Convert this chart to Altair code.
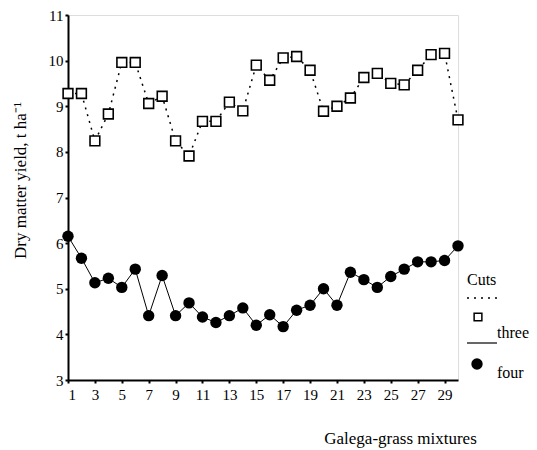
import altair as alt
import pandas as pd

mixture = list(range(1, 31))
three = [9.28, 9.28, 8.24, 8.83, 9.96, 9.96, 9.06, 9.22, 8.24, 7.91,
         8.67, 8.67, 9.09, 8.90, 9.90, 9.57, 10.06, 10.09, 9.79, 8.89,
         9.00, 9.18, 9.63, 9.72, 9.50, 9.47, 9.79, 10.13, 10.16, 8.70]
four = [6.15, 5.67, 5.13, 5.23, 5.03, 5.43, 4.41, 5.29, 4.41, 4.69,
        4.38, 4.26, 4.41, 4.58, 4.20, 4.43, 4.17, 4.53, 4.64, 5.00,
        4.64, 5.36, 5.20, 5.03, 5.27, 5.43, 5.59, 5.59, 5.62, 5.94]
x_ticks = list(range(1, 30, 2))
y_ticks = list(range(3, 12))

df = pd.DataFrame({"mixture": mixture, "three": three, "four": four})
FONT = "Liberation Serif"

xenc = alt.X("mixture:Q",
             scale=alt.Scale(domain=[1, 30], nice=False, zero=False),
             axis=alt.Axis(values=x_ticks, title="Galega-grass mixtures",
                           grid=False, domainColor="black", domainWidth=2,
                           tickColor="black", tickSize=3, tickWidth=2,
                           labelFont=FONT, labelFontSize=15, labelColor="black",
                           labelPadding=4,
                           titleFont=FONT, titleFontSize=17, titleFontWeight="normal",
                           titleColor="black", titleX=332, titleY=58,
                           titleAlign="center", titleBaseline="middle"))

def yenc(field):
    return alt.Y(f"{field}:Q",
                 scale=alt.Scale(domain=[3, 11], nice=False, zero=False),
                 axis=alt.Axis(values=y_ticks, title="Dry matter yield, t ha⁻¹",
                               grid=False, domainColor="black", domainWidth=2,
                               tickColor="black", tickSize=3, tickWidth=2,
                               labelFont=FONT, labelFontSize=15, labelColor="black",
                               labelPadding=2,
                               titleFont=FONT, titleFontSize=17, titleFontWeight="normal",
                               titleColor="black", titleAngle=270, titleX=-48, titleY=165,
                               titleAlign="center", titleBaseline="middle"))

base = alt.Chart(df)
line3 = base.mark_line(color="black", strokeWidth=1.5, strokeDash=[2, 5]).encode(x=xenc, y=yenc("three"))
pts3 = base.mark_point(shape="square", filled=True, fill="white", stroke="black",
                       strokeWidth=1.6, size=95, opacity=1).encode(x=xenc, y=yenc("three"))
line4 = base.mark_line(color="black", strokeWidth=1).encode(x=xenc, y=yenc("four"))
pts4 = base.mark_point(shape="circle", filled=True, color="black", size=130,
                       opacity=1).encode(x=xenc, y=yenc("four"))

leg = alt.Chart(pd.DataFrame({"a": [0]}))
cuts = leg.mark_text(font=FONT, fontSize=16, align="left", baseline="middle", color="black").encode(
    x=alt.value(399), y=alt.value(265), text=alt.value("Cuts"))
dl = leg.mark_rule(color="black", strokeWidth=1.5, strokeDash=[2, 5]).encode(
    x=alt.value(399), x2=alt.value(429), y=alt.value(283))
sq = leg.mark_point(shape="square", filled=False, color="black", strokeWidth=1.5, size=60, opacity=1).encode(
    x=alt.value(410), y=alt.value(302))
t3 = leg.mark_text(font=FONT, fontSize=16, align="left", baseline="middle", color="black").encode(
    x=alt.value(429), y=alt.value(318), text=alt.value("three"))
sl = leg.mark_rule(color="black", strokeWidth=1.2).encode(
    x=alt.value(399), x2=alt.value(429), y=alt.value(328))
ci = leg.mark_point(shape="circle", filled=True, color="black", size=130, opacity=1).encode(
    x=alt.value(409), y=alt.value(349))
t4 = leg.mark_text(font=FONT, fontSize=16, align="left", baseline="middle", color="black").encode(
    x=alt.value(429), y=alt.value(358), text=alt.value("four"))

chart = alt.layer(line3, pts3, line4, pts4, cuts, dl, sq, t3, sl, ci, t4).properties(
    width=390, height=365,
    autosize=alt.AutoSizeParams(type="none"),
    padding={"left": 60, "top": 7, "right": 71, "bottom": 70},
).configure_view(stroke="black", strokeWidth=2).configure(background="white")

chart.save("out.html", embed_options={"renderer": "svg", "actions": False})
